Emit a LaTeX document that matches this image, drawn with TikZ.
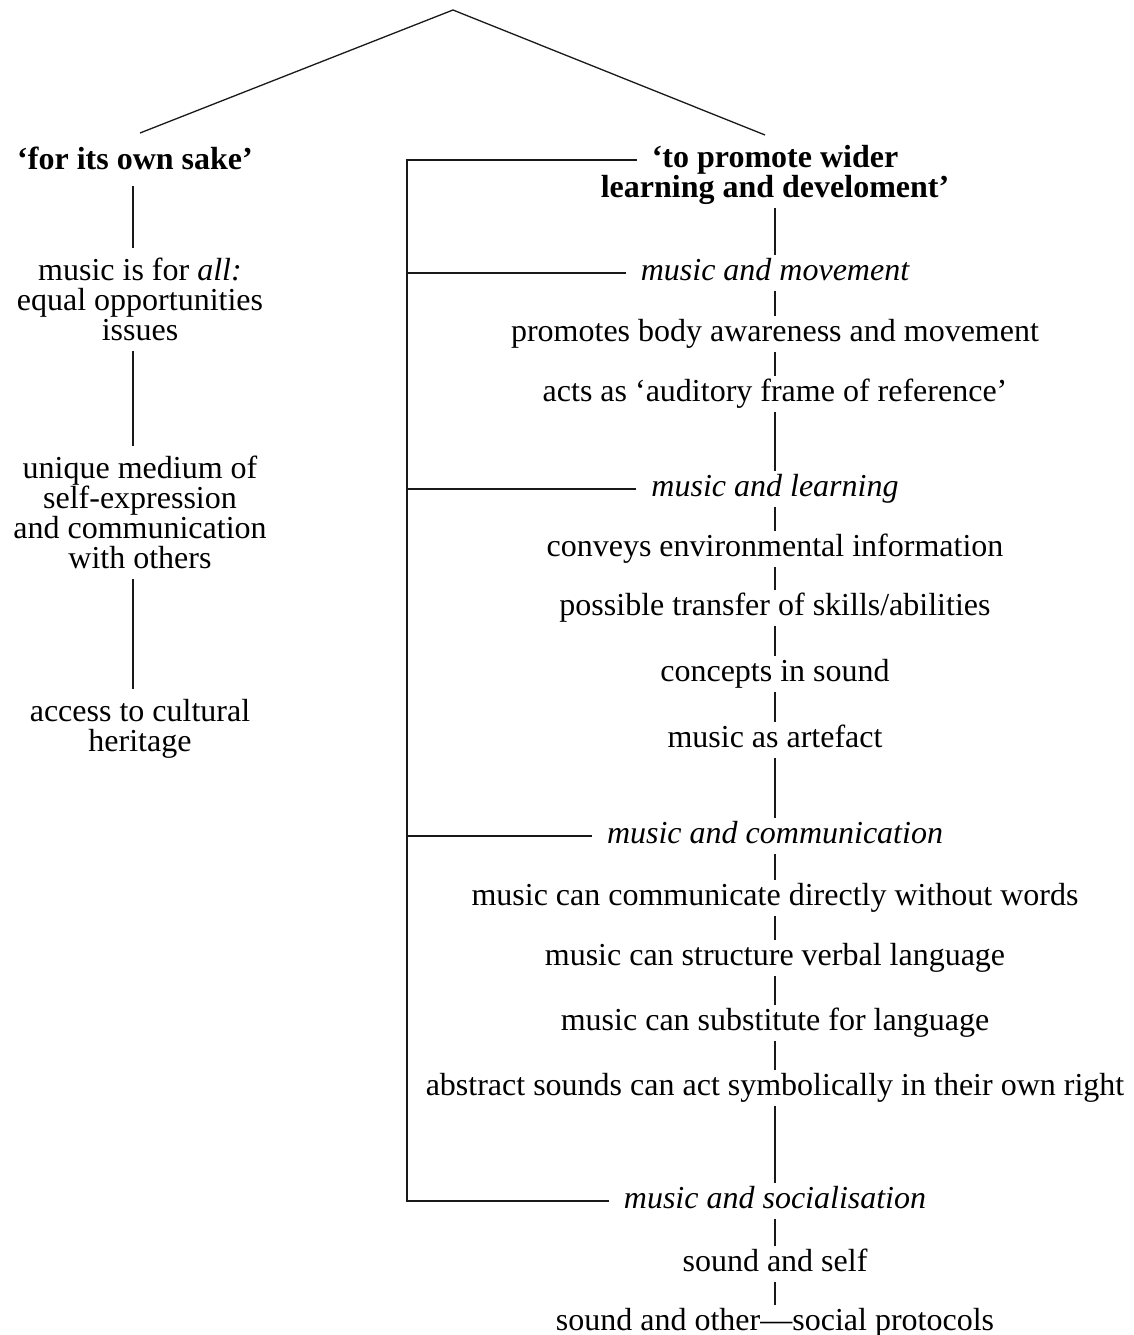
\documentclass[tikz,border=0pt]{standalone}
\usepackage{fontspec}
\setmainfont{Liberation Serif}
\begin{document}
\begin{tikzpicture}[x=1pt,y=-1pt,
  every node/.style={font=\fontsize{32}{30}\selectfont},
  item/.style={text height=21pt,text depth=7pt,inner xsep=4pt,inner ysep=4pt},
  head/.style={item,font=\fontsize{32}{30}\selectfont\itshape,inner xsep=15pt},
  ttl/.style={item,font=\fontsize{32}{30}\selectfont\bfseries},
  lbox/.style={align=center,inner ysep=10pt,anchor=north},
  conn/.style={line width=1.3pt,black!90}]
\fill[white] (0,0) rectangle (1134,1335);
\useasboundingbox (0,0) rectangle (1134,1335);
% apex
\coordinate (apex) at (453,10);
\coordinate (lend) at (140,133);
\coordinate (rend) at (765,135);
\draw[conn] (lend) -- (apex) -- (rend);
% left column
\coordinate (lx) at (133,0);
\node[ttl,inner ysep=10pt] (sake) at (135,162) {‘for its own sake’};
\node[lbox] (all) at (140,248) {music is for \textit{all:}\\equal opportunities\\issues};
\node[lbox] (uniq) at (140,446) {unique medium of\\self-expression\\and communication\\with others};
\node[lbox] (acc) at (140,689) {access to cultural\\heritage};
\draw[conn] (sake.south -| lx) -- (all.north -| lx);
\draw[conn] (all.south -| lx) -- (uniq.north -| lx);
\draw[conn] (uniq.south -| lx) -- (acc.north -| lx);
% right column
\node[ttl,inner xsep=15pt] (tA) at (775,160) {‘to promote wider};
\node[ttl] (tB) at (775,190) {learning and develoment’};
\node[head] (mov) at (775,273) {music and movement};
\node[item] (m1) at (775,334) {promotes body awareness and movement};
\node[item] (m2) at (775,394) {acts as ‘auditory frame of reference’};
\node[head] (lrn) at (775,489) {music and learning};
\node[item] (l1) at (775,549) {conveys environmental information};
\node[item] (l2) at (775,608) {possible transfer of skills/abilities};
\node[item] (l3) at (775,674) {concepts in sound};
\node[item] (l4) at (775,740) {music as artefact};
\node[head] (com) at (775,836) {music and communication};
\node[item] (c1) at (775,898) {music can communicate directly without words};
\node[item] (c2) at (775,958) {music can structure verbal language};
\node[item] (c3) at (775,1023) {music can substitute for language};
\node[item] (c4) at (775,1088) {abstract sounds can act symbolically in their own right};
\node[head] (soc) at (775,1201) {music and socialisation};
\node[item] (s1) at (775,1264) {sound and self};
\node[item] (s2) at (775,1323) {sound and other—social protocols};
% spine
\foreach \a/\b in {tB/mov,mov/m1,m1/m2,m2/lrn,lrn/l1,l1/l2,l2/l3,l3/l4,l4/com,com/c1,c1/c2,c2/c3,c3/c4,c4/soc,soc/s1,s1/s2}
  \draw[conn] (\a.south) -- (\b.north);
% bracket
\coordinate (bx) at (407,0);
\draw[conn] (tA.west) -- (tA.west -| bx) -- (soc.west -| bx) -- (soc.west);
\foreach \n in {mov,lrn,com}
  \draw[conn] (\n.west -| bx) -- (\n.west);
\end{tikzpicture}
\end{document}
